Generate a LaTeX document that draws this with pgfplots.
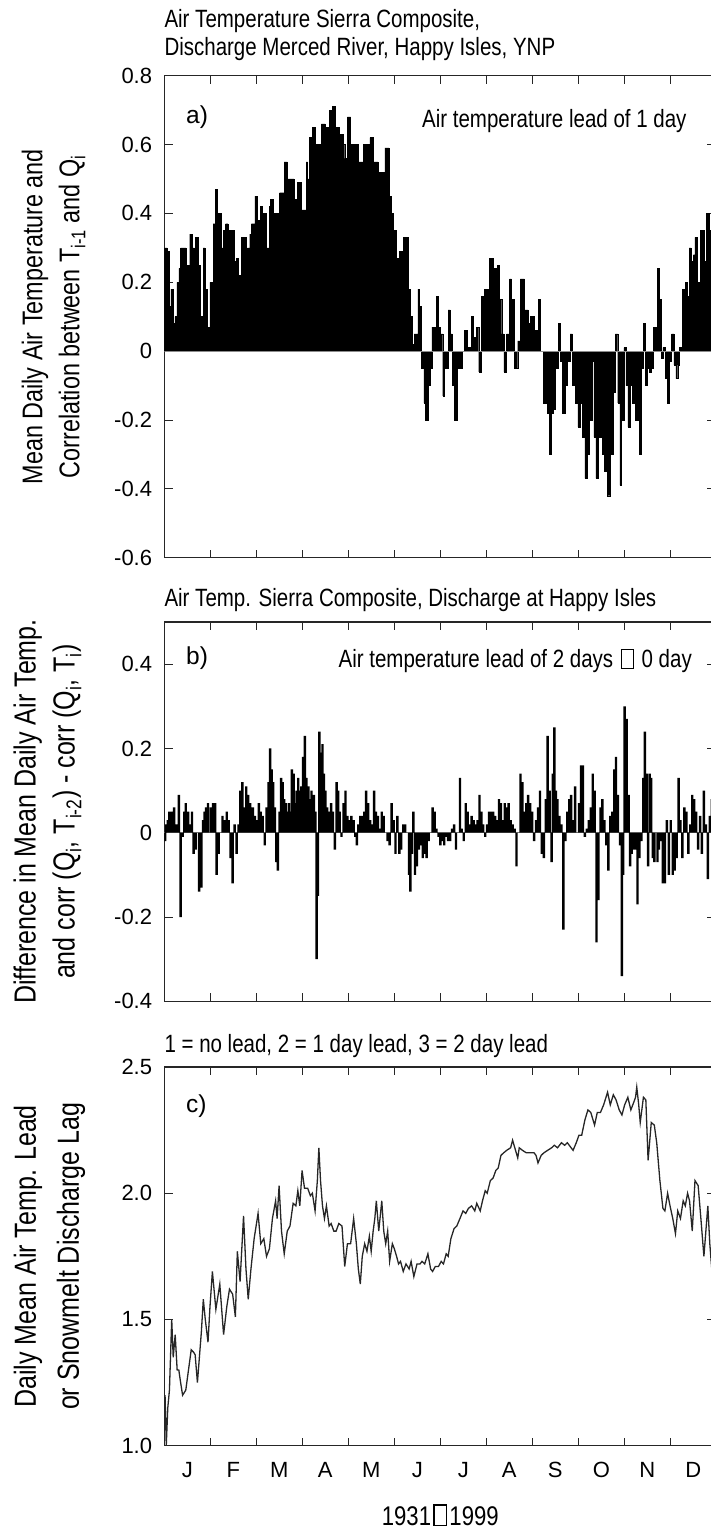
\documentclass[border=0pt]{standalone}
\usepackage{fontspec}
\setmainfont{Liberation Sans}[FakeStretch=0.82]
\newfontfamily\tickfont{Liberation Sans}
\usepackage{pgfplots}
\pgfplotsset{compat=1.18}
\newcommand{\bx}{\kern0.08em{\setlength{\fboxsep}{0pt}\setlength{\fboxrule}{0.05em}\fbox{\rule{0pt}{0.72em}\hspace{0.42em}}}\kern0.08em}
\pgfplotsset{
 panel/.style={
   scale only axis, width=552pt, xmin=0, xmax=365,
   axis line style={line width=1.1pt, black!85},
   tick style={line width=0.9pt, black!85},
   major tick length=9pt, minor tick length=8pt,
   xtick={15.21,45.63,76.04,106.46,136.88,167.29,197.71,228.13,258.54,288.96,319.38,349.79},
   major x tick style={draw=none},
   minor xtick={30.42,60.83,91.25,121.67,152.08,182.5,212.92,243.33,273.75,304.17,334.58},
   ticklabel style={font=\tickfont\fontsize{22}{22}\selectfont, inner sep=0pt},
   yticklabel style={xshift=-12pt},
   xticklabel style={yshift=-16pt},
   ylabel style={font=\fontsize{28.5}{37}\selectfont, align=center, anchor=center},
 }
}
\begin{document}
\begin{tikzpicture}
% ---------------- panel a
\begin{axis}[panel, at={(164.3pt,972.3pt)}, anchor=south west, height=482pt,
  ymin=-0.6, ymax=0.8,
  ytick={-0.6,-0.4,-0.2,0,0.2,0.4,0.6,0.8},
  yticklabels={-0.6,-0.4,-0.2,0,0.2,0.4,0.6,0.8},
  xticklabels={},
  ylabel style={at={(axis description cs:-0.2007,0.5)}},
  ylabel={Mean Daily Air Temperature and\\Correlation between T\textsubscript{i-1} and Q\textsubscript{i}}]
\addplot[const plot, fill=black, draw=black, line width=0.4pt] coordinates {
(0,0.30) (1.8,0.29) (3.1,0.13) (4.4,0.18) (5.7,0.08) (7.0,0.10) (8.3,0.20) (9.6,0.24) (10.8,0.30) (13.4,0.30) (14.2,0.25) (16.8,0.34) (18.6,0.30) (19.9,0.28) (20.7,0.33) (22.5,0.25) (23.8,0.10) (25.6,0.30) (26.9,0.18) (28.4,0.07) (30.2,0.20) (32.3,0.37) (33.8,0.47) (34.9,0.37) (35.9,0.40) (37.4,0.30) (39.2,0.35) (40.5,0.37) (42.1,0.35) (44.4,0.35) (46.0,0.26) (47.8,0.27) (48.8,0.22) (50.9,0.33) (54.0,0.18) (55.0,0.30) (56.5,0.34) (57.6,0.37) (59.9,0.45) (61.2,0.38) (63.3,0.42) (64.8,0.40) (67.6,0.30) (69.5,0.42) (70.2,0.44) (72.0,0.40) (76.2,0.46) (79.3,0.55) (81.3,0.50) (84.4,0.50) (85.7,0.44) (87.8,0.49) (90.4,0.41) (93.7,0.55) (94.8,0.50) (96.1,0.62) (97.9,0.65) (99.7,0.32) (100.2,0.60) (103.8,0.66) (106.4,0.65) (109.0,0.70) (111.3,0.71) (112.8,0.65) (115.4,0.63) (118.0,0.60) (119.3,0.56) (121.1,0.68) (123.2,0.60) (125.7,0.60) (128.3,0.55) (131.4,0.60) (133.4,0.60) (136.0,0.62) (138.1,0.55) (141.2,0.52) (145.9,0.59) (148.5,0.45) (150.3,0.40) (151.6,0.35) (153.1,0.27) (155.4,0.29) (158.0,0.33) (161.1,0.18) (162.7,0.10) (163.7,0.02) (165.2,0.05) (167.6,0.18) (168.6,0.13) (169.6,0.0) (170.1,-0.05) (171.7,-0.15) (172.5,-0.20) (174.3,-0.10) (175.6,-0.05) (176.9,0.07) (180.0,0.16) (181.3,0.07) (182.5,0.05) (184.1,-0.13) (185.1,-0.05) (187.7,0.12) (189.0,0.05) (190.3,-0.10) (191.6,-0.20) (193.4,-0.05) (196.7,0.0) (198.6,0.06) (200.1,0.01) (203.2,0.10) (204.5,0.04) (206.3,0.07) (207.9,-0.06) (209.7,0.16) (211.5,0.18) (214.8,0.27) (217.4,0.24) (220.0,0.25) (221.3,0.15) (223.1,0.05) (224.6,-0.06) (226.4,0.05) (228.3,0.21) (229.5,0.15) (231.6,-0.05) (233.7,0.03) (235.5,0.21) (238.1,0.12) (240.6,0.08) (241.9,0.10) (244.5,0.06) (247.1,0.15) (248.4,0.0) (250.5,-0.15) (252.3,-0.13) (253.5,-0.18) (254.8,-0.30) (256.1,-0.18) (257.4,-0.17) (258.7,-0.05) (260.5,0.08) (262.1,-0.03) (263.1,-0.18) (265.2,-0.10) (266.7,-0.03) (268.3,0.05) (269.8,-0.10) (271.6,-0.15) (273.4,-0.22) (275.0,-0.15) (276.3,-0.25) (278.1,-0.37) (279.4,-0.30) (281.2,-0.20) (282.7,-0.03) (284.0,-0.25) (285.3,-0.37) (287.1,-0.25) (289.7,-0.30) (291.0,-0.35) (293.1,-0.42) (294.6,-0.30) (296.7,-0.12) (298.2,0.05) (299.8,-0.15) (301.3,-0.39) (302.4,-0.20) (303.9,0.01) (305.2,-0.10) (306.5,-0.22) (308.0,-0.10) (309.6,-0.15) (311.6,-0.20) (314.2,-0.30) (315.5,-0.05) (316.8,0.08) (318.1,-0.10) (319.4,-0.05) (320.7,-0.06) (322.0,-0.05) (323.3,0.07) (325.8,0.24) (327.1,0.15) (328.7,-0.02) (329.7,0.01) (331.3,-0.08) (332.8,-0.15) (333.9,-0.03) (335.4,0.05) (337.0,-0.04) (338.2,-0.08) (339.5,-0.04) (340.6,0.01) (342.7,0.18) (344.5,0.20) (345.7,0.16) (347.0,0.30) (348.3,0.26) (349.9,0.28) (350.9,0.33) (352.4,0.20) (354.4,0.35) (356.7,0.26) (358.6,0.40) (360.2,0.35) (362.0,0.40) (365,0.40)
} \closedcycle;
\addplot[black!45, line width=0.8pt] coordinates {(0,0) (365,0)};
\end{axis}
% ---------------- panel b
\begin{axis}[panel, at={(164.3pt,528.7pt)}, anchor=south west, height=379.3pt,
  ymin=-0.4, ymax=0.5,
  ytick={-0.4,-0.2,0,0.2,0.4},
  yticklabels={-0.4,-0.2,0,0.2,0.4},
  xticklabels={},
  ylabel style={font=\fontsize{30.5}{39}\selectfont, at={(axis description cs:-0.2116,0.5)}},
  ylabel={Difference in Mean Daily Air Temp.\\and corr (Q\textsubscript{i}, T\textsubscript{i-2}) - corr (Q\textsubscript{i}, T\textsubscript{i})}]
\addplot[black!45, line width=0.8pt] coordinates {(0,0) (365,0)};
\addplot[ybar, bar width=2.4pt, fill=black, draw=none] coordinates {
(0.5,-0.02) (1.3,0.02) (2.3,0.03) (3.4,0.05) (4.9,0.05) (6.5,0.06) (8.3,0.02) (9.6,0.09) (10.8,-0.20) (12.1,-0.01) (13.2,0.05) (14.2,0.07) (15.8,0.05) (17.3,0.02) (18.3,0.05) (19.4,-0.05) (20.7,-0.04) (21.9,0.0) (23.0,-0.14) (24.5,-0.13) (25.6,0.03) (26.6,0.05) (27.6,0.06) (28.9,0.07) (30.7,0.06) (32.3,0.07) (33.6,0.07) (34.6,-0.10) (35.9,-0.05) (37.2,0.0) (38.5,0.04) (40.0,0.03) (41.3,0.05) (42.6,0.03) (43.9,-0.06) (45.2,-0.12) (46.5,0.02) (47.8,-0.05) (49.1,0.02) (50.3,0.10) (51.6,0.12) (52.9,0.06) (54.2,0.11) (55.5,0.09) (56.8,0.07) (58.6,0.06) (59.9,0.04) (61.2,0.03) (62.5,0.07) (63.8,0.05) (65.1,0.04) (66.4,-0.03) (67.6,0.06) (68.9,0.12) (70.0,0.20) (71.0,0.15) (72.0,0.12) (73.1,0.06) (74.1,-0.07) (75.1,-0.09) (76.2,0.05) (77.2,0.13) (78.2,0.12) (79.3,0.08) (80.3,0.07) (81.3,0.05) (82.4,0.07) (83.4,0.05) (84.4,0.15) (85.5,0.14) (86.5,0.07) (87.5,0.10) (88.6,0.13) (89.6,0.10) (90.6,0.11) (91.7,0.18) (93.0,0.23) (94.0,0.13) (95.3,0.11) (96.3,0.08) (97.3,0.10) (98.9,0.09) (99.9,0.05) (100.7,-0.30) (101.5,-0.15) (102.5,0.24) (103.5,0.19) (104.6,0.21) (105.6,0.14) (106.6,0.10) (107.7,0.06) (109.0,0.05) (110.3,0.07) (111.5,0.05) (112.8,-0.04) (113.9,0.12) (114.9,0.10) (115.9,0.05) (117.2,-0.01) (118.5,0.07) (119.8,0.10) (121.1,0.04) (122.4,0.03) (123.7,0.04) (125.2,0.03) (126.3,-0.01) (127.3,-0.03) (128.3,0.02) (129.6,0.04) (130.9,0.04) (132.2,0.05) (133.5,0.10) (134.8,0.07) (136.1,0.03) (137.4,0.02) (138.7,0.10) (139.9,0.05) (141.2,0.04) (142.5,0.01) (143.8,0.05) (145.1,0.04) (146.4,0.0) (147.7,-0.02) (149.0,-0.03) (150.3,0.07) (151.6,0.03) (152.9,-0.05) (154.1,0.04) (155.4,-0.05) (156.7,-0.04) (158.0,0.02) (159.3,0.02) (160.6,0.0) (161.9,-0.10) (162.7,-0.14) (163.7,-0.05) (164.7,0.05) (165.8,-0.10) (167.1,-0.08) (168.3,-0.04) (169.6,-0.03) (170.9,-0.06) (172.2,-0.05) (173.5,-0.06) (174.8,-0.02) (176.1,0.0) (177.4,0.06) (178.7,0.05) (180.0,0.01) (181.3,-0.01) (182.5,-0.03) (183.8,-0.02) (185.1,-0.03) (186.4,-0.01) (187.7,-0.02) (189.0,-0.02) (190.3,0.01) (191.6,0.02) (192.9,-0.04) (194.2,0.0) (195.5,0.13) (196.7,0.01) (198.0,-0.02) (199.3,0.07) (200.6,0.05) (201.9,0.02) (203.2,0.04) (204.5,0.03) (205.8,0.02) (207.1,0.03) (208.4,0.09) (209.7,0.05) (210.9,0.02) (212.2,-0.01) (213.5,0.02) (214.8,0.05) (216.1,0.05) (217.4,0.05) (218.7,0.04) (220.0,0.03) (221.3,0.08) (222.6,0.07) (223.9,0.03) (225.1,0.07) (226.4,0.06) (227.7,0.07) (229.0,0.03) (230.3,0.02) (231.6,0.01) (232.9,-0.08) (234.2,0.0) (235.5,0.14) (236.8,0.12) (238.1,0.05) (239.4,0.07) (240.6,0.09) (241.9,0.07) (243.2,0.05) (244.5,-0.02) (245.8,0.03) (247.1,0.06) (248.4,0.10) (249.7,-0.05) (251.0,-0.06) (252.3,0.08) (253.5,0.23) (254.8,0.10) (256.1,-0.07) (256.9,0.14) (257.9,0.25) (259.0,0.10) (260.0,0.08) (261.3,0.04) (262.6,0.02) (263.9,-0.23) (265.2,-0.02) (266.5,0.05) (267.8,0.08) (269.0,0.09) (270.3,0.03) (271.6,0.11) (272.9,0.0) (274.2,0.07) (275.5,0.16) (276.8,0.16) (278.1,-0.01) (279.4,0.01) (280.7,0.03) (282.0,0.06) (283.3,0.14) (284.5,0.10) (285.8,-0.26) (287.1,-0.16) (288.4,0.06) (289.7,0.08) (291.0,0.03) (292.3,-0.03) (293.6,-0.09) (294.9,0.04) (296.2,0.05) (297.5,0.15) (298.7,0.18) (300.0,0.09) (301.3,-0.03) (302.6,-0.34) (303.4,-0.10) (304.4,0.30) (305.7,0.27) (307.0,0.09) (308.0,-0.08) (309.1,-0.05) (310.4,-0.04) (311.6,-0.04) (312.9,-0.17) (314.2,-0.06) (315.5,-0.02) (316.8,0.13) (317.8,0.24) (318.9,0.14) (319.9,-0.08) (320.9,0.14) (322.0,0.13) (323.0,-0.06) (324.0,-0.07) (325.1,0.0) (326.1,-0.07) (327.1,-0.04) (328.4,-0.02) (329.7,-0.12) (331.0,-0.12) (332.3,0.03) (333.6,-0.10) (334.9,0.03) (336.2,-0.10) (337.5,-0.09) (338.8,-0.06) (340.1,0.13) (341.3,0.03) (342.6,-0.06) (343.9,0.06) (345.2,0.05) (346.5,-0.05) (347.8,0.02) (349.1,0.09) (350.4,0.08) (351.7,0.05) (353.0,-0.04) (354.3,0.04) (355.5,-0.05) (356.8,0.10) (358.1,0.02) (359.4,-0.11) (360.7,0.04) (362.0,0.08) (363.3,-0.05) (364.5,0.06)
};
\end{axis}
% ---------------- panel c
\begin{axis}[panel, at={(164.3pt,84.3pt)}, anchor=south west, height=378.7pt,
  ymin=1.0, ymax=2.5,
  ytick={1.0,1.5,2.0,2.5},
  yticklabels={1.0,1.5,2.0,2.5},
  xticklabels={J,F,M,A,M,J,J,A,S,O,N,D},
  ylabel style={font=\fontsize{30.5}{43}\selectfont, at={(axis description cs:-0.208,0.5)}},
  ylabel={Daily Mean Air Temp. Lead\\or Snowmelt Discharge Lag}]
\addplot[black!85, line width=1.3pt] coordinates {
(0.5,1.20) (1.3,1.00) (2.3,1.15) (3.4,1.22) (4.9,1.50) (5.9,1.35) (7.2,1.44) (8.5,1.30) (9.6,1.30) (10.8,1.25) (12.1,1.20) (14.2,1.22) (16.0,1.30) (17.8,1.38) (19.4,1.37) (20.4,1.36) (21.9,1.25) (23.2,1.35) (24.5,1.45) (25.8,1.58) (27.1,1.50) (28.9,1.41) (30.2,1.55) (31.8,1.69) (34.1,1.54) (36.7,1.64) (39.2,1.44) (41.3,1.55) (43.1,1.62) (45.2,1.60) (47.0,1.51) (48.3,1.77) (50.1,1.65) (52.4,1.91) (54.0,1.70) (55.5,1.58) (57.3,1.70) (59.4,1.82) (62.0,1.92) (63.8,1.80) (65.8,1.82) (67.6,1.75) (69.5,1.78) (71.5,1.90) (73.6,1.97) (74.6,1.90) (75.9,2.03) (77.5,1.85) (79.3,1.76) (81.3,1.85) (83.1,1.87) (85.2,1.96) (87.0,1.95) (88.3,2.01) (89.6,1.95) (91.1,2.09) (92.7,2.02) (94.8,2.02) (96.6,1.99) (97.9,2.00) (99.7,1.93) (101.2,2.05) (102.2,2.18) (103.3,2.05) (104.6,1.95) (105.9,1.90) (107.2,1.95) (109.0,1.87) (110.3,1.88) (112.1,1.85) (113.6,1.85) (115.4,1.88) (117.5,1.87) (119.3,1.71) (121.1,1.80) (123.2,1.80) (125.2,1.90) (127.0,1.80) (128.3,1.70) (129.6,1.64) (130.9,1.75) (132.5,1.80) (134.0,1.77) (135.6,1.83) (136.8,1.77) (138.1,1.85) (139.2,1.90) (140.2,1.97) (141.8,1.85) (143.8,1.97) (145.1,1.85) (146.4,1.80) (147.7,1.85) (149.0,1.73) (150.8,1.80) (152.1,1.78) (153.6,1.75) (154.9,1.72) (156.2,1.73) (158.0,1.69) (159.8,1.72) (161.9,1.70) (163.2,1.73) (165.0,1.67) (167.1,1.72) (169.1,1.72) (170.4,1.73) (172.2,1.72) (174.3,1.76) (176.1,1.70) (177.4,1.69) (179.2,1.71) (181.3,1.71) (183.1,1.73) (184.6,1.72) (186.4,1.76) (187.7,1.75) (189.5,1.82) (191.6,1.86) (193.4,1.87) (195.5,1.90) (197.5,1.93) (199.3,1.92) (201.1,1.94) (203.2,1.95) (205.3,1.93) (206.6,1.96) (208.9,1.93) (210.4,1.97) (212.2,2.01) (213.5,2.00) (215.6,2.05) (217.4,2.06) (219.2,2.09) (220.8,2.10) (222.6,2.15) (224.4,2.16) (226.4,2.17) (229.0,2.18) (230.3,2.21) (233.7,2.14) (234.7,2.18) (236.8,2.17) (239.4,2.16) (241.9,2.16) (244.5,2.16) (245.8,2.15) (247.1,2.12) (249.2,2.15) (251.0,2.16) (253.5,2.17) (256.1,2.18) (257.9,2.19) (260.0,2.18) (262.6,2.20) (264.7,2.19) (266.5,2.20) (269.0,2.18) (270.3,2.17) (272.4,2.20) (274.2,2.23) (276.0,2.23) (278.1,2.29) (280.1,2.33) (282.0,2.32) (284.5,2.27) (286.3,2.32) (288.4,2.32) (290.5,2.35) (293.1,2.40) (294.9,2.35) (296.9,2.39) (298.7,2.37) (300.8,2.33) (302.6,2.31) (304.4,2.35) (306.5,2.38) (308.5,2.33) (310.4,2.36) (311.6,2.38) (312.4,2.42) (313.7,2.35) (314.7,2.28) (316.8,2.38) (318.4,2.37) (319.9,2.13) (322.0,2.28) (324.0,2.27) (325.6,2.20) (327.7,2.05) (329.7,1.94) (331.0,1.93) (332.8,2.00) (334.4,1.95) (336.2,1.90) (338.0,1.84) (339.5,1.93) (341.3,1.90) (343.1,1.97) (344.5,1.95) (346.0,2.00) (347.3,1.97) (349.1,1.85) (350.9,2.05) (353.0,2.03) (354.8,1.90) (356.8,1.75) (359.4,1.95) (360.7,1.80) (362.0,1.70) (364.0,1.60)
};
\end{axis}
% ---------------- texts
\begin{scope}[every node/.style={inner sep=0pt, font=\fontsize{25}{25}\selectfont}]
\node[anchor=base west] at (164.3pt,1502pt) {Air Temperature Sierra Composite,};
\node[anchor=base west] at (164.3pt,1474pt) {Discharge Merced River, Happy Isles, YNP};
\node[anchor=base west, font=\tickfont\fontsize{24.5}{24.5}\selectfont] at (186pt,1406pt) {a)};
\node[anchor=base east] at (686.7pt,1402pt) {Air temperature lead of 1 day};
\node[anchor=base west] at (164.3pt,923pt) {Air Temp. Sierra Composite, Discharge at Happy Isles};
\node[anchor=base west, font=\tickfont\fontsize{24.5}{24.5}\selectfont] at (186pt,865pt) {b)};
\node[anchor=base east] at (692pt,862pt) {Air temperature lead of 2 days \bx{} 0 day};
\node[anchor=base west] at (164.3pt,477pt) {1 = no lead, 2 = 1 day lead, 3 = 2 day lead};
\node[anchor=base west, font=\tickfont\fontsize{24.5}{24.5}\selectfont] at (186pt,417pt) {c)};
\node[anchor=base, font=\fontsize{27}{27}\selectfont] at (440.3pt,5pt) {1931\bx1999};
\end{scope}
\pgfresetboundingbox
\path[use as bounding box] (0pt,0pt) rectangle (711pt,1530pt);
\end{tikzpicture}
\end{document}
